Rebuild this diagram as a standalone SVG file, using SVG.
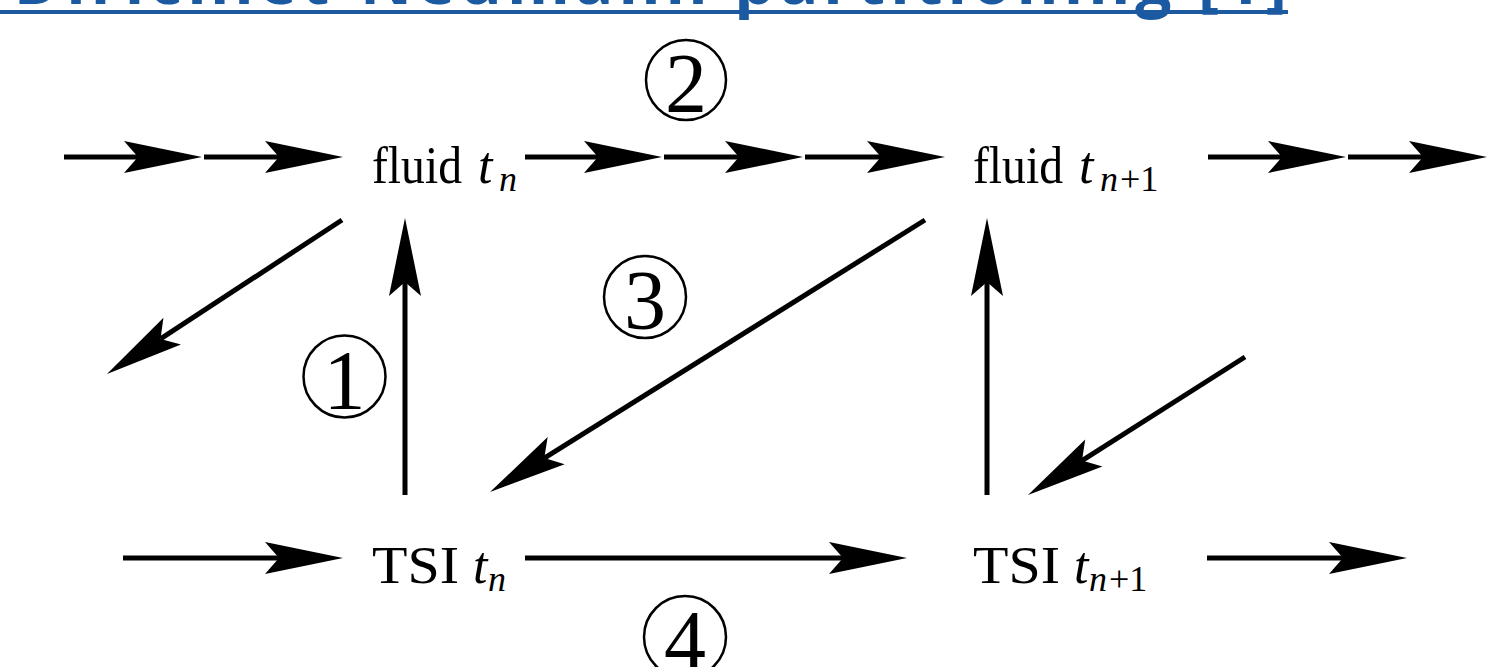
<svg xmlns="http://www.w3.org/2000/svg" width="1509" height="667" viewBox="0 0 1509 667">
<style>
.lbl{font-family:"Liberation Serif","Times New Roman",serif;font-size:52px;fill:#000}
.it{font-style:italic}
.sub{font-style:italic;font-size:36px}
.sml{font-size:36px}
.num{font-family:"Liberation Serif","Times New Roman",serif;font-size:84px;fill:#000;text-anchor:middle}
.ring{fill:none;stroke:#000;stroke-width:2.5}
.ln{stroke:#000;stroke-width:5;fill:none;marker-end:url(#ah)}
.title{font-family:"Open Sans","Liberation Sans",sans-serif;font-weight:bold;font-size:64px;letter-spacing:5px;fill:#1b5aa0;text-anchor:end}
</style>
<defs>
<marker id="ah" markerUnits="userSpaceOnUse" markerWidth="90" markerHeight="40" viewBox="-20 -20 90 40" refX="0" refY="0" orient="auto" overflow="visible">
<path d="M64,0 L-14,-16 L0,0 L-14,16 Z" fill="#000"/>
</marker>
</defs>
<g id="title">
<text class="title" x="1292" y="4">Dirichlet-Neumann partitioning [1]</text>
<rect x="0" y="10" width="1288" height="4" fill="#1b5aa0"/>
</g>
<g id="connectors">
<line class="ln" x1="64" y1="157" x2="138" y2="157"/>
<line class="ln" x1="204" y1="157" x2="279" y2="157"/>
<line class="ln" x1="525" y1="157" x2="598" y2="157"/>
<line class="ln" x1="664" y1="157" x2="739" y2="157"/>
<line class="ln" x1="805" y1="157" x2="881" y2="157"/>
<line class="ln" x1="1208" y1="157" x2="1282" y2="157"/>
<line class="ln" x1="1348" y1="157" x2="1423" y2="157"/>
<line class="ln" x1="123" y1="558" x2="279" y2="558"/>
<line class="ln" x1="525" y1="558" x2="843" y2="558"/>
<line class="ln" x1="1207" y1="558" x2="1343" y2="558"/>
<line class="ln" x1="405" y1="495" x2="405" y2="282"/>
<line class="ln" x1="987" y1="495" x2="987" y2="282"/>
<line class="ln" x1="342" y1="220" x2="160.5" y2="338.9"/>
<line class="ln" x1="925" y1="220" x2="544.3" y2="458.1"/>
<line class="ln" x1="1245" y1="357" x2="1082" y2="460.6"/>
</g>
<g id="fluid-tn">
<text class="lbl" x="372" y="183" textLength="90" lengthAdjust="spacingAndGlyphs">fluid</text>
<text class="lbl it" x="478" y="183">t</text>
<text class="lbl sub" x="499" y="191">n</text>
</g>
<g id="fluid-tn1">
<text class="lbl" x="973" y="183" textLength="90" lengthAdjust="spacingAndGlyphs">fluid</text>
<text class="lbl it" x="1079" y="183">t</text>
<text class="lbl sub" x="1100" y="191">n</text>
<text class="lbl sml" x="1120" y="191">+1</text>
</g>
<g id="tsi-tn">
<text class="lbl" x="372" y="583" font-size="54" textLength="87" lengthAdjust="spacingAndGlyphs">TSI</text>
<text class="lbl it" x="473" y="583">t</text>
<text class="lbl sub" x="488" y="591">n</text>
</g>
<g id="tsi-tn1">
<text class="lbl" x="973" y="583" font-size="54" textLength="87" lengthAdjust="spacingAndGlyphs">TSI</text>
<text class="lbl it" x="1074" y="583">t</text>
<text class="lbl sub" x="1089" y="591">n</text>
<text class="lbl sml" x="1109" y="591">+1</text>
</g>
<g id="step1">
<circle class="ring" cx="344.5" cy="376.5" r="41"/>
<text class="num" x="344.5" y="409">1</text>
</g>
<g id="step2">
<circle class="ring" cx="686" cy="80" r="40"/>
<text class="num" x="686" y="112">2</text>
</g>
<g id="step3">
<circle class="ring" cx="645" cy="297" r="41"/>
<text class="num" x="645" y="329">3</text>
</g>
<g id="step4">
<circle class="ring" cx="685" cy="637" r="41"/>
<text class="num" x="685" y="669">4</text>
</g>
</svg>
